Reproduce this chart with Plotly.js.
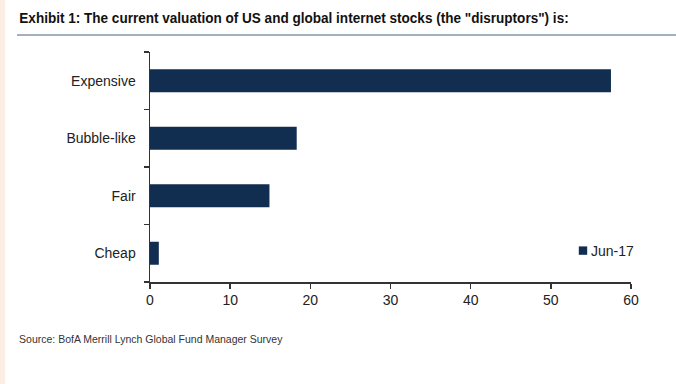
<!DOCTYPE html>
<html>
<head>
<meta charset="utf-8">
<script src="https://cdn.plot.ly/plotly-3.0.1.min.js"></script>
<style>html,body{margin:0;padding:0;background:#fff;}#chart{width:676px;height:384px;}</style>
</head>
<body>
<div id="chart"></div>
<script>
const categories = ["Cheap", "Fair", "Bubble-like", "Expensive"];
const values = [1.1, 14.9, 18.3, 57.5];
const seriesName = "Jun-17";
const xTicks = [0, 10, 20, 30, 40, 50, 60];
const titleText = 'Exhibit 1: The current valuation of US and global internet stocks (the "disruptors") is:';
const sourceText = "Source: BofA Merrill Lynch Global Fund Manager Survey";

const FONT = '"Liberation Sans", Arial, sans-serif';
const L = 150, R = 45, T = 52, B = 102;
const W = 676 - L - R, H = 384 - T - B;
const px = x => (x - L) / W;
const py = y => (384 - B - y) / H;

const trace = {
  type: "bar",
  orientation: "h",
  y: categories,
  x: values,
  name: seriesName,
  width: 0.4,
  marker: {color: "#112e51"},
  showlegend: true,
  hoverinfo: "x+y"
};

const layout = {
  width: 676, height: 384,
  margin: {l: L, r: R, t: T, b: B, pad: 0},
  paper_bgcolor: "#ffffff",
  plot_bgcolor: "#ffffff",
  font: {family: FONT, size: 13, color: "#222"},
  xaxis: {
    range: [0, 60],
    tickvals: xTicks,
    ticktext: xTicks.map(String),
    showgrid: false,
    zeroline: false,
    showline: true,
    linecolor: "#333",
    linewidth: 1.5,
    ticks: "outside",
    ticklen: 5,
    tickcolor: "#333",
    tickwidth: 1.5,
    tickfont: {family: FONT, size: 14, color: "#222"},
    fixedrange: true
  },
  yaxis: {
    type: "category",
    categoryorder: "array",
    categoryarray: categories,
    showgrid: false,
    zeroline: false,
    showline: true,
    linecolor: "#333",
    linewidth: 1.5,
    ticks: "outside",
    tickson: "boundaries",
    ticklen: 5,
    tickcolor: "#333",
    tickwidth: 1.5,
    ticklabelstandoff: 10,
    tickfont: {family: FONT, size: 14, color: "#222"},
    fixedrange: true
  },
  legend: {
    x: px(551), y: py(251), xanchor: "left", yanchor: "middle",
    bgcolor: "rgba(0,0,0,0)",
    font: {family: FONT, size: 14, color: "#222"},
    itemwidth: 30
  },
  shapes: [
    {type: "rect", xref: "paper", yref: "paper", x0: px(0), x1: px(5), y0: py(384), y1: py(0),
     fillcolor: "#fdeee3", line: {width: 0}, layer: "below"},
    {type: "line", xref: "paper", yref: "paper", x0: px(17), x1: px(676), y0: py(35), y1: py(35),
     line: {color: "#a3b0c2", width: 2}}
  ],
  annotations: [
    {text: "<b>" + titleText + "</b>", xref: "paper", yref: "paper",
     x: px(17), y: py(18), xanchor: "left", yanchor: "middle", showarrow: false,
     font: {family: FONT, size: 15, color: "#111"}},
    {text: sourceText, xref: "paper", yref: "paper",
     x: px(17), y: py(339), xanchor: "left", yanchor: "middle", showarrow: false,
     font: {family: FONT, size: 11, color: "#333"}}
  ]
};

function squeeze(el, target) {
  const bb = el.getBBox();
  if (!bb.width) return;
  const s = target / bb.width;
  el.setAttribute("transform", "translate(" + (bb.x * (1 - s)) + ",0) scale(" + s + ",1)");
}

Plotly.newPlot("chart", [trace], layout, {displayModeBar: false, staticPlot: true}).then(gd => {
  const ann = gd.querySelectorAll(".annotation-text");
  if (ann[0]) squeeze(ann[0], 550);
  if (ann[1]) squeeze(ann[1], 264);
  const sym = gd.querySelector(".legend .legendpoints path");
  if (sym) sym.setAttribute("transform", "translate(32,0) scale(0.7)");
});
</script>
</body>
</html>
